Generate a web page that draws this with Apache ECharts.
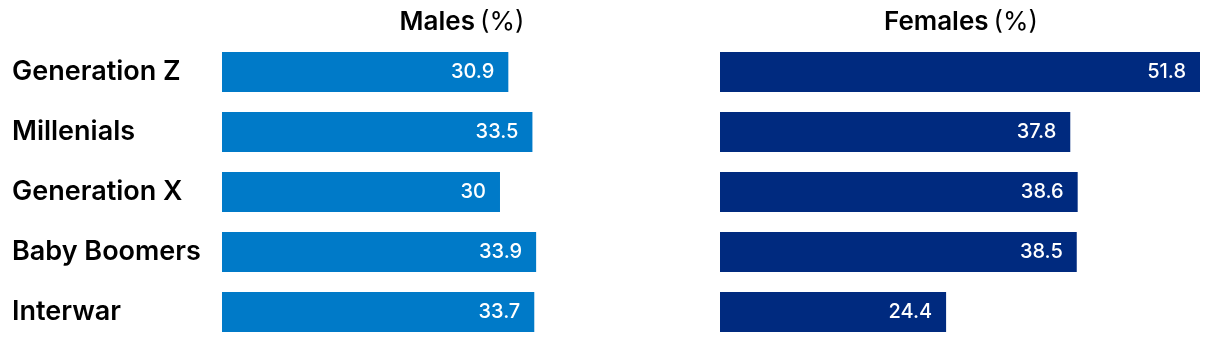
<!DOCTYPE html>
<html><head><meta charset="utf-8">
<script src="https://cdn.jsdelivr.net/npm/echarts@6/dist/echarts.min.js"></script>
<style>html,body{margin:0;padding:0;background:#fff}#c{width:1220px;height:346px}</style>
</head><body><div id="c"></div>
<script>
const categories = ['Generation Z', 'Millenials', 'Generation X', 'Baby Boomers', 'Interwar'];
const males = [30.9, 33.5, 30, 33.9, 33.7];
const females = [51.8, 37.8, 38.6, 38.5, 24.4];
const FONT = 'Inter';
const chart = echarts.init(document.getElementById('c'), null, {renderer: 'canvas'});
function lbl() {
  return {show: true, position: 'insideRight', distance: 14, color: '#fff',
    fontFamily: FONT, fontSize: 20, fontWeight: 500};
}
const titleRich = {
  b: {fontFamily: FONT, fontSize: 26, fontWeight: 600, color: '#000'},
  n: {fontFamily: FONT, fontSize: 26, fontWeight: 400, color: '#000'}
};
chart.setOption({
  animation: false,
  title: [
    {text: '{b|Males} {n|(%)}', left: 457, top: 4, textAlign: 'center', textStyle: {rich: titleRich}},
    {text: '{b|Females} {n|(%)}', left: 956, top: 4, textAlign: 'center', textStyle: {rich: titleRich}}
  ],
  grid: [
    {left: 222, width: 480, top: 42, height: 300},
    {left: 720, width: 480, top: 42, height: 300}
  ],
  xAxis: [
    {type: 'value', gridIndex: 0, min: 0, max: 51.8, show: false},
    {type: 'value', gridIndex: 1, min: 0, max: 51.8, show: false}
  ],
  yAxis: [
    {type: 'category', gridIndex: 0, data: categories, inverse: true,
     axisLine: {show: false}, axisTick: {show: false},
     axisLabel: {align: 'left', margin: 210, color: '#000', fontFamily: FONT, fontSize: 27, fontWeight: 600, padding: [0, 0, 3, 0]}},
    {type: 'category', gridIndex: 1, data: categories, inverse: true, show: false}
  ],
  series: [
    {type: 'bar', xAxisIndex: 0, yAxisIndex: 0, data: males, barWidth: 40,
     itemStyle: {color: '#007AC8'}, label: lbl()},
    {type: 'bar', xAxisIndex: 1, yAxisIndex: 1, data: females, barWidth: 40,
     itemStyle: {color: '#002A7F'}, label: lbl()}
  ]
});
</script></body></html>
